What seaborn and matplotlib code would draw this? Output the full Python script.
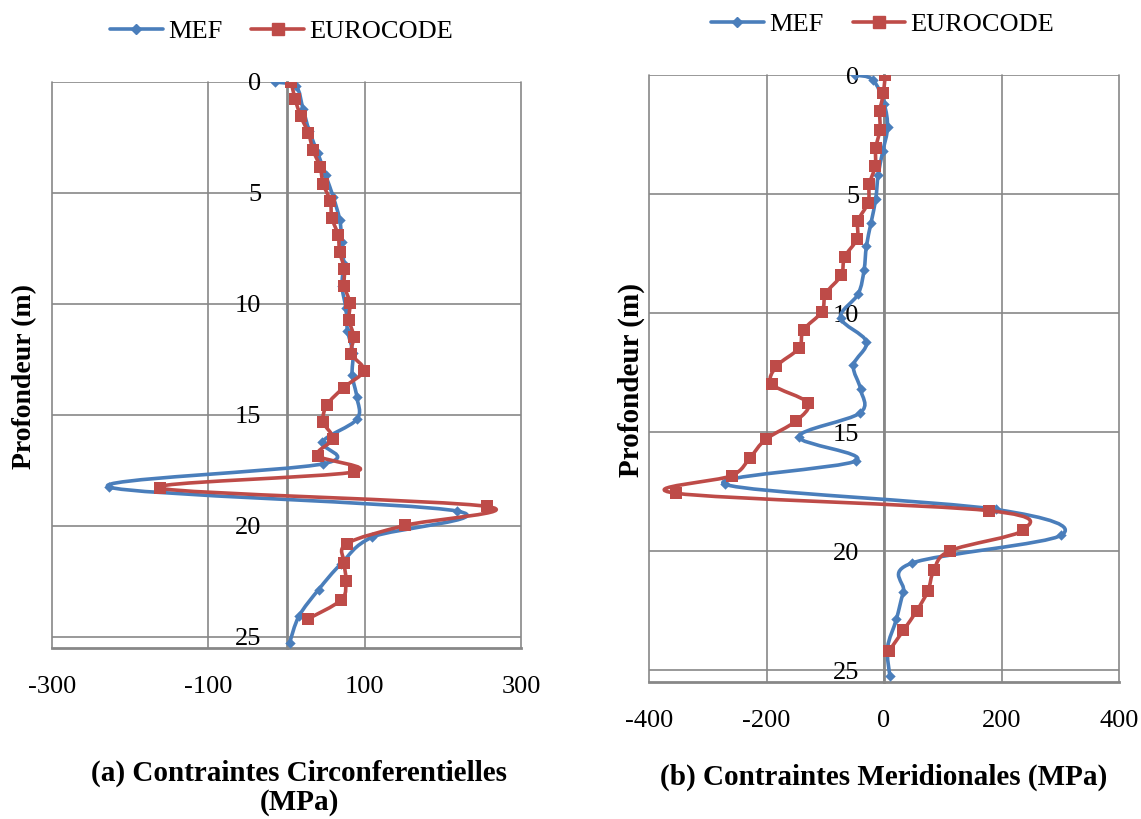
import numpy as np
import pandas as pd
import matplotlib
matplotlib.use("Agg")
import matplotlib.pyplot as plt
from matplotlib.path import Path
from matplotlib.patches import PathPatch
from matplotlib.lines import Line2D
import seaborn as sns

# Depths (m) of the finite-element nodes and of the Eurocode evaluation points
depth_mef = [0.0, 0.2, 1.2, 2.2, 3.2, 4.2, 5.2, 6.2, 7.2, 8.2, 9.2, 10.2, 11.2,
             12.2, 13.2, 14.2, 15.2, 16.2, 17.2, 18.25, 19.33, 20.5, 21.7,
             22.87, 24.06, 25.26]
depth_ec = [0.0, 0.77, 1.53, 2.3, 3.07, 3.83, 4.6, 5.36, 6.12, 6.89, 7.65, 8.42,
            9.18, 9.95, 10.71, 11.48, 12.24, 13.0, 13.77, 14.54, 15.3, 16.07,
            16.83, 17.57, 18.3, 19.12, 19.98, 20.8, 21.66, 22.5, 23.33, 24.18]

# Circumferential stresses (MPa)
mef_circ = [-15, 12, 21, 29, 40, 50, 60, 68, 71, 73, 71, 76, 78, 85, 84, 90, 90,
            46, 47, -227, 218, 110, 70, 41, 16, 4]
ec_circ = [6, 11, 18, 28, 34, 43, 47, 56, 58, 66, 68, 74, 74, 81, 80, 86, 83, 99,
           73, 52, 47, 59, 40, 86, -162, 256, 151, 77, 74, 76, 70, 28]

# Meridional stresses (MPa)
mef_merid = [-50, -19, 0, 6, -2, -10, -14, -22, -30, -34, -44, -74, -30, -52, -40,
             -41, -145, -47, -270, 190, 302, 48, 33, 21, 6, 10]
ec_merid = [2, -1, -7, -7, -14, -15, -25, -27, -44, -46, -67, -73, -99, -106, -137,
            -145, -183, -190, -130, -150, -201, -228, -259, -354, 178, 237, 113,
            85, 75, 56, 33, 9]

series_names = ["MEF", "EUROCODE"]
colors = {"MEF": "#4A7EBB", "EUROCODE": "#BE4B48"}
markers = {"MEF": "D", "EUROCODE": "s"}
marker_area = {"MEF": 28, "EUROCODE": 68}
LINE_W = 2.6

x_ticks_a = [-300, -100, 100, 300]
x_ticks_b = [-400, -200, 0, 200, 400]
y_ticks = [0, 5, 10, 15, 20, 25]

sns.set_theme(style="white")
plt.rcParams["font.family"] = ["Liberation Serif", "DejaVu Serif"]
plt.rcParams["axes.unicode_minus"] = False
plt.rcParams["text.color"] = "black"
plt.rcParams["axes.labelcolor"] = "black"
plt.rcParams["xtick.color"] = "black"
plt.rcParams["ytick.color"] = "black"

GRID = "#878787"


def smooth_path(xv, yv, t=1.0 / 6.0):
    """Cubic Bezier path through the points (spreadsheet-style smoothed line)."""
    pts = np.column_stack([xv, yv]).astype(float)
    n = len(pts)
    verts = [pts[0]]
    codes = [Path.MOVETO]
    for i in range(n - 1):
        p0 = pts[max(i - 1, 0)]
        p1 = pts[i]
        p2 = pts[i + 1]
        p3 = pts[min(i + 2, n - 1)]
        verts += [p1 + (p2 - p0) * t, p2 - (p3 - p1) * t, p2]
        codes += [Path.CURVE4] * 3
    return Path(verts, codes)


def build_frame(mef_vals, ec_vals):
    rows = []
    for d, v in zip(depth_mef, mef_vals):
        rows.append({"depth": d, "stress": v, "series": "MEF"})
    for d, v in zip(depth_ec, ec_vals):
        rows.append({"depth": d, "stress": v, "series": "EUROCODE"})
    return pd.DataFrame(rows)


fig = plt.figure(figsize=(11.41, 8.19), dpi=100)
ax_a = fig.add_axes([52 / 1141, 1 - 648 / 819, 469 / 1141, 566 / 819])
ax_b = fig.add_axes([649 / 1141, 1 - 682 / 819, 470 / 1141, 607 / 819])

panels = [
    (ax_a, build_frame(mef_circ, ec_circ), (-300, 300), x_ticks_a,
     "(a) Contraintes Circonferentielles\n(MPa)", (0.527, -0.197), 20,
     (-0.0576, 0.479), (281.5 / 1141, 0.962)),
    (ax_b, build_frame(mef_merid, ec_merid), (-400, 400), x_ticks_b,
     "(b) Contraintes Meridionales (MPa)", (0.5, -0.135), 21,
     (-0.037, 0.4975), (882.7 / 1141, 0.970)),
]

for ax, df, xlim, xticks, title, title_xy, ylab_size, ylab_xy, leg_xy in panels:
    z = 3
    for name in series_names:
        sub = df[df["series"] == name]
        patch = PathPatch(smooth_path(sub["stress"], sub["depth"]),
                          facecolor="none", edgecolor=colors[name], lw=LINE_W,
                          joinstyle="round", capstyle="round",
                          transform=ax.transData, zorder=z)
        ax.add_patch(patch)
        sns.scatterplot(data=sub, x="stress", y="depth", ax=ax,
                        color=colors[name], marker=markers[name],
                        s=marker_area[name], linewidth=0, legend=False,
                        zorder=z + 1)
        z += 2

    ax.set_xlim(*xlim)
    ax.set_ylim(25.5, 0)
    ax.set_xticks(xticks)
    ax.set_xticklabels([str(v) for v in xticks])
    ax.set_yticks(y_ticks)
    ax.set_yticklabels([str(v) for v in y_ticks])

    ax.set_axisbelow(True)
    ax.grid(True, color=GRID, lw=1.2)
    for gl in ax.get_xgridlines() + ax.get_ygridlines():
        gl.set_clip_on(False)

    ax.spines["top"].set_visible(False)
    ax.spines["right"].set_visible(False)
    ax.spines["left"].set_position(("data", 0))
    for s in ("left", "bottom"):
        ax.spines[s].set_color(GRID)
        ax.spines[s].set_linewidth(2.0)
        ax.spines[s].set_zorder(2.5)

    ax.tick_params(axis="y", length=0, pad=18, labelsize=19, labelcolor="black")
    ax.tick_params(axis="x", length=0, pad=20, labelsize=19, labelcolor="black")

    ax.set_xlabel(title, fontsize=21, fontweight="bold", linespacing=1.1,
                  ha="center", va="top", color="black")
    ax.xaxis.set_label_coords(*title_xy)
    ax.set_ylabel("Profondeur (m)", fontsize=ylab_size, fontweight="bold",
                  color="black")
    ax.yaxis.label.set_verticalalignment("center")
    ax.yaxis.set_label_coords(*ylab_xy)

    handles = [Line2D([], [], color=colors[n], lw=LINE_W, marker=markers[n],
                      markersize=5.5 if n == "MEF" else 8)
               for n in series_names]
    ax.legend(handles, series_names, loc="center", bbox_to_anchor=leg_xy,
              bbox_transform=fig.transFigure, ncol=2, frameon=False,
              fontsize=19, handlelength=2.0, handletextpad=0.2,
              columnspacing=1.1, borderpad=0, labelcolor="black")

fig.savefig("out.png", dpi=100)
